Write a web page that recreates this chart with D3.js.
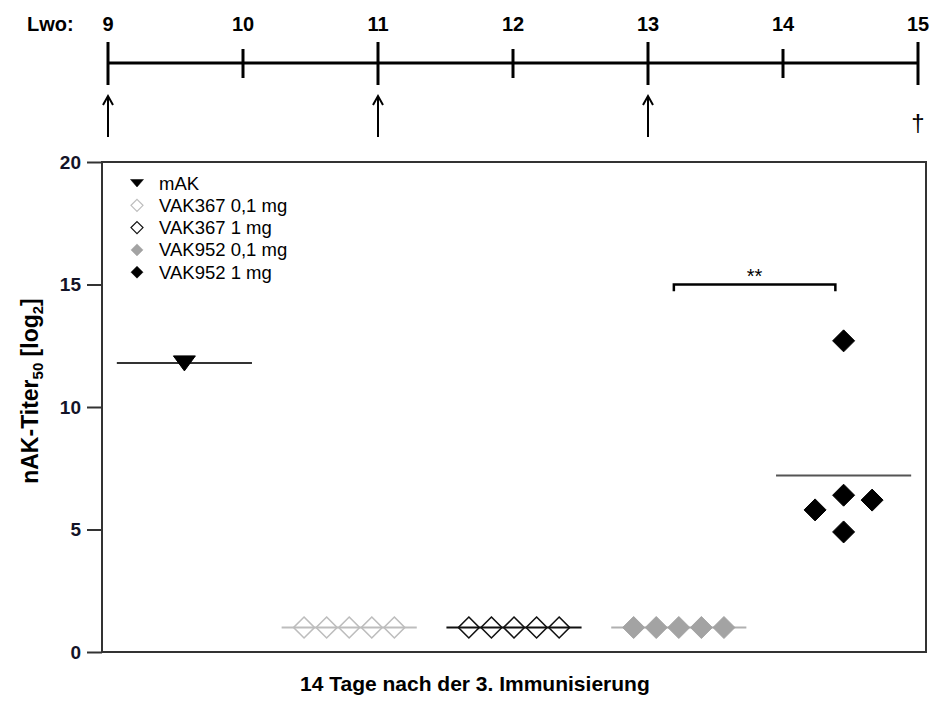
<!DOCTYPE html>
<html>
<head>
<meta charset="utf-8">
<script src="https://cdn.jsdelivr.net/npm/d3@7"></script>
<style>
  body { margin: 0; background: #fff; }
  svg { display: block; font-family: "Liberation Sans", Arial, sans-serif; }
</style>
</head>
<body>
<div id="chart"></div>
<script>
// Groups and titre values (log2)
const groups = ['mAK', 'VAK367 0,1 mg', 'VAK367 1 mg', 'VAK952 0,1 mg', 'VAK952 1 mg'];
const mAK = [11.8];
const vak367Low = [1, 1, 1, 1, 1];
const vak367High = [1, 1, 1, 1, 1];
const vak952Low = [1, 1, 1, 1, 1];
const vak952High = [12.7, 5.8, 6.4, 6.2, 4.9];
// column of each point inside its group (scatter spread)
const spreadRow = [-2, -1, 0, 1, 2];
const spreadHigh = [0, -1, 0, 1, 0];

const yTicks = [0, 5, 10, 15, 20];

// Timeline (Lebenswoche)
const weeks = [9, 10, 11, 12, 13, 14, 15];
const immunisations = [9, 11, 13];
const endWeek = 15;

const series = [
    { name: groups[0], values: mAK, cols: [0], step: 0, shape: 'tri', fill: '#000', stroke: '#000', mean: '#333' },
    { name: groups[1], values: vak367Low, cols: spreadRow, step: 0.137, shape: 'dia', fill: 'none', stroke: '#bdbdbd', mean: '#bdbdbd' },
    { name: groups[2], values: vak367High, cols: spreadRow, step: 0.137, shape: 'dia', fill: 'none', stroke: '#111', mean: '#111' },
    { name: groups[3], values: vak952Low, cols: spreadRow, step: 0.137, shape: 'dia', fill: '#a3a3a3', stroke: '#a3a3a3', mean: '#b0b0b0' },
    { name: groups[4], values: vak952High, cols: spreadHigh, step: 0.173, shape: 'dia', fill: '#000', stroke: '#000', mean: '#555' }
];

const width = 932, height = 705;
const svg = d3.select('#chart').append('svg')
    .attr('width', width)
    .attr('height', height);

// ---- timeline on top ----
const t = d3.scaleLinear().domain([9, 15]).range([108, 918]);
const tl = svg.append('g');
const lineY = 63;

tl.append('line')
    .attr('x1', t(9)).attr('x2', t(15))
    .attr('y1', lineY).attr('y2', lineY)
    .attr('stroke', '#000').attr('stroke-width', 3);

tl.selectAll('.wk')
    .data(weeks)
    .join('line')
    .attr('x1', d => t(d)).attr('x2', d => t(d))
    .attr('y1', d => d % 2 ? 42 : 49)
    .attr('y2', d => d % 2 ? 85 : 78)
    .attr('stroke', '#000').attr('stroke-width', 3);

tl.selectAll('.wklab')
    .data(weeks)
    .join('text')
    .attr('x', d => t(d))
    .attr('y', 31)
    .attr('text-anchor', 'middle')
    .attr('font-size', '20px')
    .attr('font-weight', 'bold')
    .text(d => d);

tl.append('text')
    .attr('x', 27).attr('y', 31)
    .attr('font-size', '20px')
    .attr('font-weight', 'bold')
    .text('Lwo:');

const arrows = tl.selectAll('.arr')
    .data(immunisations)
    .join('g')
    .attr('transform', d => `translate(${t(d)},0)`);
arrows.append('line')
    .attr('x1', 0).attr('x2', 0).attr('y1', 137).attr('y2', 96)
    .attr('stroke', '#000').attr('stroke-width', 2);
arrows.append('path')
    .attr('d', 'M-5,105 L0,96 L5,105')
    .attr('fill', 'none').attr('stroke', '#000').attr('stroke-width', 2);

tl.append('text')
    .attr('x', t(endWeek)).attr('y', 131)
    .attr('text-anchor', 'middle')
    .attr('font-size', '24px')
    .text('\u2020');

// ---- scatter plot ----
const x = d3.scaleLinear().domain([0.5, 5.5]).range([102, 926]);
const y = d3.scaleLinear().domain([0, 20]).range([652, 162]);

const plot = svg.append('g');

plot.append('rect')
    .attr('x', x(0.5)).attr('y', y(20))
    .attr('width', x(5.5) - x(0.5))
    .attr('height', y(0) - y(20))
    .attr('fill', 'none')
    .attr('stroke', '#333')
    .attr('stroke-width', 2);

const yAxis = plot.append('g')
    .attr('transform', `translate(${x(0.5)},0)`)
    .call(d3.axisLeft(y).tickValues(yTicks).tickSize(15).tickPadding(6));
yAxis.select('.domain').remove();
yAxis.selectAll('line').attr('stroke', '#333').attr('stroke-width', 2);
yAxis.selectAll('text')
    .attr('font-size', '19px')
    .attr('font-weight', 'bold')
    .attr('font-family', '"Liberation Sans", Arial, sans-serif')
    .attr('fill', '#141428');

// axis titles
const yTitle = svg.append('text')
    .attr('transform', 'translate(38,391) rotate(-90)')
    .attr('text-anchor', 'middle')
    .attr('font-size', '23px')
    .attr('font-weight', 'bold');
yTitle.append('tspan').text('nAK-Titer');
yTitle.append('tspan').attr('font-size', '15px').attr('dy', 5).text('50');
yTitle.append('tspan').attr('dy', -5).text(' [log');
yTitle.append('tspan').attr('font-size', '15px').attr('dy', 5).text('2');
yTitle.append('tspan').attr('dy', -5).text(']');

svg.append('text')
    .attr('x', 300)
    .attr('y', 691)
    .attr('font-size', '21px')
    .attr('font-weight', 'bold')
    .text('14 Tage nach der 3. Immunisierung');

function shapePath(shape, s) {
    if (shape === 'tri') {
        return `M${-11 * s},${-7 * s} L${11 * s},${-7 * s} L0,${8 * s} Z`;
    }
    return `M0,${-11 * s} L${11 * s},0 L0,${11 * s} L${-11 * s},0 Z`;
}

// mean lines
plot.selectAll('.mean')
    .data(series)
    .join('line')
    .attr('x1', (d, i) => x(i + 1 - 0.41))
    .attr('x2', (d, i) => x(i + 1 + 0.41))
    .attr('y1', d => y(d3.mean(d.values)))
    .attr('y2', d => y(d3.mean(d.values)))
    .attr('stroke', d => d.mean)
    .attr('stroke-width', 2);

// points
series.forEach((s, i) => {
    plot.selectAll(null)
        .data(s.values.map((v, j) => ({ v, col: s.cols[j] })))
        .join('path')
        .attr('transform', d => `translate(${x(i + 1 + d.col * s.step)},${y(d.v)})`)
        .attr('d', shapePath(s.shape, s.fill === 'none' ? 0.95 : 1))
        .attr('fill', s.fill)
        .attr('stroke', s.stroke)
        .attr('stroke-width', s.fill === 'none' ? 1.6 : 1);
});

// significance bracket
const bx1 = x(3.97), bx2 = x(4.95);
plot.append('path')
    .attr('d', `M${bx1},${y(14.72)} L${bx1},${y(15)} L${bx2},${y(15)} L${bx2},${y(14.72)}`)
    .attr('fill', 'none')
    .attr('stroke', '#000')
    .attr('stroke-width', 2.5);
plot.append('text')
    .attr('x', (bx1 + bx2) / 2)
    .attr('y', y(15) - 2)
    .attr('text-anchor', 'middle')
    .attr('font-size', '20px')
    .text('**');

// legend
const legend = plot.append('g').attr('transform', 'translate(137,183)');
const rows = legend.selectAll('g')
    .data(series)
    .join('g')
    .attr('transform', (d, i) => `translate(0,${i * 22.3})`);
rows.append('path')
    .attr('d', d => d.shape === 'tri' ? 'M-6.5,-3.5 L6.5,-3.5 L0,4 Z' : 'M0,-6 L6,0 L0,6 L-6,0 Z')
    .attr('fill', d => d.fill)
    .attr('stroke', d => d.stroke)
    .attr('stroke-width', d => d.fill === 'none' ? 1.2 : 0.5);
rows.append('text')
    .attr('x', 22)
    .attr('y', 6.5)
    .attr('font-size', '18.5px')
    .text(d => d.name);
</script>
</body>
</html>
